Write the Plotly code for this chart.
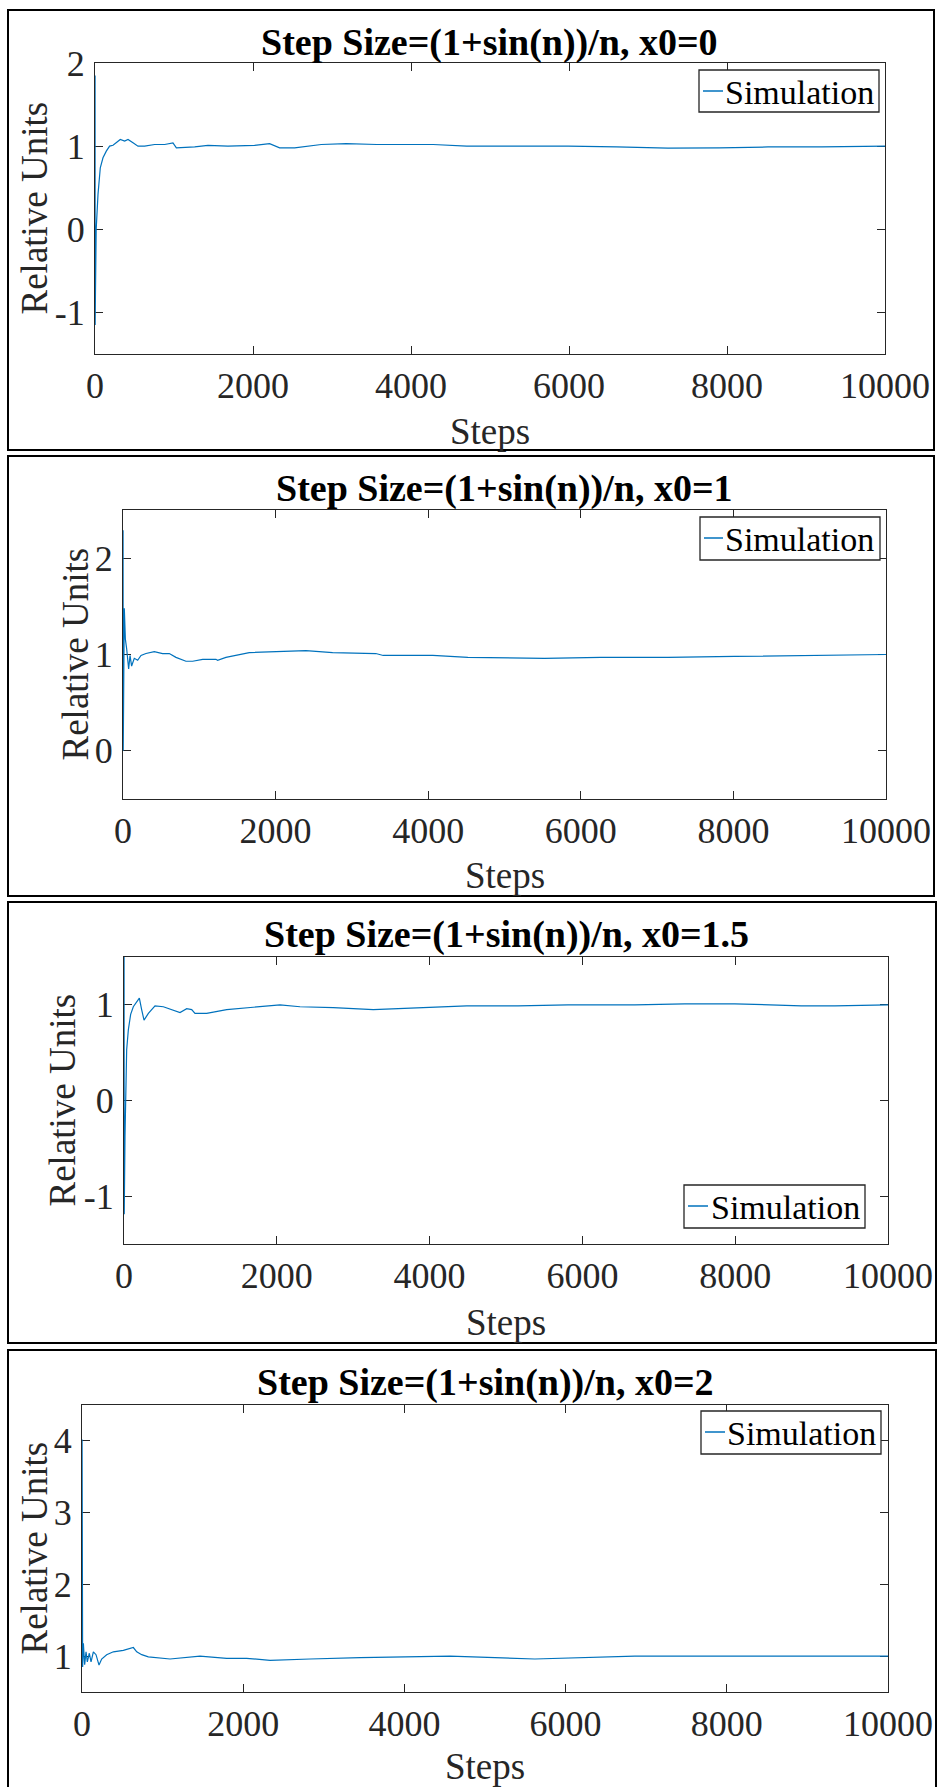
import plotly.graph_objects as go

W, H = 938, 1787

# ---- data: simulated iterate vs. step, one series per starting point ----
titles = [
    "Step Size=(1+sin(n))/n, x0=0",
    "Step Size=(1+sin(n))/n, x0=1",
    "Step Size=(1+sin(n))/n, x0=1.5",
    "Step Size=(1+sin(n))/n, x0=2",
]

steps_x0_0 = [1, 2, 6, 15, 38, 67, 101, 143, 185, 228, 270, 320, 375, 418, 481, 544, 628,
              755, 882, 987, 1030, 1262, 1430, 1683, 2020, 2210, 2337, 2527, 2864, 3180,
              3566, 4280, 4705, 5300, 5988, 6600, 7253, 7900, 8519, 9200, 10000]
vals_x0_0 = [1.85, -1.15, -0.75, 0.0, 0.42, 0.74, 0.86, 0.94, 1.0, 1.01, 1.04, 1.08, 1.06,
             1.08, 1.04, 1.0, 1.0, 1.02, 1.02, 1.04, 0.98, 0.99, 1.01, 1.0, 1.01, 1.03, 0.98,
             0.98, 1.02, 1.03, 1.02, 1.02, 1.0, 1.0, 1.0, 0.99, 0.975, 0.98, 0.99, 0.99, 1.0]

steps_x0_1 = [1, 3, 17, 31, 48, 74, 92, 113, 148, 192, 236, 301, 410, 519, 607, 694, 825,
              913, 1044, 1218, 1240, 1349, 1655, 2004, 2397, 2747, 3314, 3410, 4060, 4520,
              5524, 6262, 7140, 8013, 9105, 10000]
vals_x0_1 = [2.29, 0.0, 1.48, 1.16, 1.06, 0.85, 0.99, 0.88, 0.96, 0.94, 0.99, 1.01, 1.03,
             1.01, 1.01, 0.97, 0.93, 0.93, 0.95, 0.95, 0.94, 0.97, 1.02, 1.03, 1.04, 1.02,
             1.01, 0.99, 0.99, 0.97, 0.96, 0.97, 0.97, 0.98, 0.99, 1.0]

steps_x0_15 = [1, 3, 13, 35, 57, 87, 122, 157, 201, 231, 262, 319, 406, 515, 646, 733, 821,
               886, 929, 1082, 1344, 1649, 2042, 2304, 2740, 3263, 3613, 4049, 4486, 5157,
               5812, 6685, 7340, 7994, 8866, 9303, 10000]
vals_x0_15 = [1.5, -1.19, -0.38, 0.53, 0.74, 0.9, 0.98, 1.02, 1.07, 0.95, 0.84, 0.91, 0.99,
              0.98, 0.94, 0.92, 0.96, 0.95, 0.91, 0.91, 0.95, 0.97, 1.0, 0.98, 0.97, 0.95,
              0.96, 0.98, 0.99, 0.99, 1.0, 1.0, 1.01, 1.01, 0.99, 0.99, 1.0]

steps_x0_2 = [1, 8, 17, 33, 50, 66, 91, 112, 141, 174, 211, 244, 306, 389, 513, 637, 679,
              741, 823, 1092, 1464, 1795, 2043, 2333, 2829, 3450, 4567, 4790, 5618, 6859,
              8513, 10000]
vals_x0_2 = [4.02, 0.85, 1.18, 0.88, 1.06, 0.92, 1.04, 0.92, 1.06, 1.02, 0.875, 0.96, 1.02,
             1.06, 1.08, 1.12, 1.06, 1.02, 0.99, 0.96, 1.0, 0.97, 0.97, 0.94, 0.96, 0.98, 1.0,
             0.99, 0.96, 1.0, 1.0, 1.0]

series = [(steps_x0_0, vals_x0_0), (steps_x0_1, vals_x0_1),
          (steps_x0_15, vals_x0_15), (steps_x0_2, vals_x0_2)]
series_name = "Simulation"

y_ranges = [[-1.5, 2], [-0.5, 2.5], [-1.5, 1.5], [0.5, 4.5]]
y_ticks = [[-1, 0, 1, 2], [0, 1, 2], [-1, 0, 1], [1, 2, 3, 4]]
y_ticktext = [["-1", "0", "1", "2"], ["0", "1", "2"], ["-1", "0", "1"], ["1", "2", "3", "4"]]
x_ticks = [0, 2000, 4000, 6000, 8000, 10000]
x_ticktext = ["0", "2000", "4000", "6000", "8000", "10000"]

# ---- layout geometry (pixels from the top-left corner of the page) ----
plot_boxes = [  # left, right, top, bottom
    (95, 885, 63, 354),
    (123, 886, 510, 799),
    (124, 888, 957, 1244),
    (82, 888, 1405, 1692),
]
frames = [(8, 934, 10, 450), (8, 934, 456, 896), (8, 936, 902, 1343), (8, 936, 1350, 1800)]
title_y = [43, 488, 934, 1382]
xlabel_y = [431, 875, 1322, 1766]
ylabel_x = [34, 75, 62, 34]
# legend box: left, right, top, bottom; key line: x0, x1, y; text: left, middle-y
legend_box = [(699, 879, 70, 112), (700, 880, 517, 560), (684, 865, 1185, 1228),
              (701, 881, 1411, 1454)]
legend_key = [(703, 723, 91), (704, 723, 538), (688, 708, 1206), (705, 725, 1432)]
legend_text = [(723, 92), (723, 539), (709, 1207), (725, 1433)]


def fx(p):
    return p / W


def fy(p):
    return 1 - p / H


FONT = "Liberation Serif"
AX = "#262626"
BLUE = "#0072BD"

fig = go.Figure()
annotations = []
shapes = []

for i, ((xs, ys), (l, r, t, b)) in enumerate(zip(series, plot_boxes)):
    n = "" if i == 0 else str(i + 1)
    fig.add_trace(go.Scatter(
        x=xs, y=ys, mode="lines", name=series_name,
        line=dict(color=BLUE, width=1.2),
        xaxis="x" + n, yaxis="y" + n, showlegend=False,
    ))
    common = dict(
        showline=True, linecolor=AX, linewidth=1.3, mirror="ticks",
        ticks="inside", ticklen=8, tickwidth=1.3, tickcolor=AX,
        showgrid=False, zeroline=False, layer="below traces", automargin=False,
        tickfont=dict(family=FONT, size=36, color=AX),
    )
    fig.update_layout(**{
        "xaxis" + n: dict(
            domain=[fx(l), fx(r)], range=[0, 10000], anchor="y" + n,
            tickmode="array", tickvals=x_ticks, ticktext=x_ticktext,
            ticklabelstandoff=0, **common),
        "yaxis" + n: dict(
            domain=[fy(b), fy(t)], range=y_ranges[i], anchor="x" + n,
            tickmode="array", tickvals=y_ticks[i], ticktext=y_ticktext[i],
            ticklabelstandoff=2, **common),
    })
    cx = (l + r) / 2
    annotations.append(dict(
        text="<b>" + titles[i] + "</b>", x=fx(cx), y=fy(title_y[i]),
        xref="paper", yref="paper", xanchor="center", yanchor="middle",
        showarrow=False, font=dict(family=FONT, size=38, color="black")))
    annotations.append(dict(
        text="Steps", x=fx(cx), y=fy(xlabel_y[i]), xref="paper", yref="paper",
        xanchor="center", yanchor="middle", showarrow=False,
        font=dict(family=FONT, size=37, color=AX)))
    annotations.append(dict(
        text="Relative Units", x=fx(ylabel_x[i]), y=fy((t + b) / 2),
        xref="paper", yref="paper", xanchor="center", yanchor="middle",
        textangle=-90, showarrow=False,
        font=dict(family=FONT, size=37, color=AX)))

    # legend: framed box, line key and series name
    bl, br, bt, bb = legend_box[i]
    shapes.append(dict(type="rect", xref="paper", yref="paper",
                       x0=fx(bl), x1=fx(br), y0=fy(bb), y1=fy(bt),
                       fillcolor="white", line=dict(color=AX, width=1.3)))
    kx0, kx1, ky = legend_key[i]
    shapes.append(dict(type="line", xref="paper", yref="paper",
                       x0=fx(kx0), x1=fx(kx1), y0=fy(ky), y1=fy(ky),
                       line=dict(color=BLUE, width=1.5)))
    tx, ty = legend_text[i]
    annotations.append(dict(
        text=series_name, x=fx(tx), y=fy(ty), xref="paper", yref="paper",
        xanchor="left", yanchor="middle", showarrow=False,
        font=dict(family=FONT, size=34, color="black")))

    # outer frame of each panel
    fl, fr, ft, fb = frames[i]
    shapes.append(dict(type="rect", xref="paper", yref="paper",
                       x0=fx(fl), x1=fx(fr), y0=fy(fb), y1=fy(ft),
                       line=dict(color="black", width=2)))

fig.update_layout(
    width=W, height=H, margin=dict(l=0, r=0, t=0, b=0, autoexpand=False),
    paper_bgcolor="white", plot_bgcolor="white", showlegend=False,
    annotations=annotations, shapes=shapes,
)

fig.write_html("out.html")
